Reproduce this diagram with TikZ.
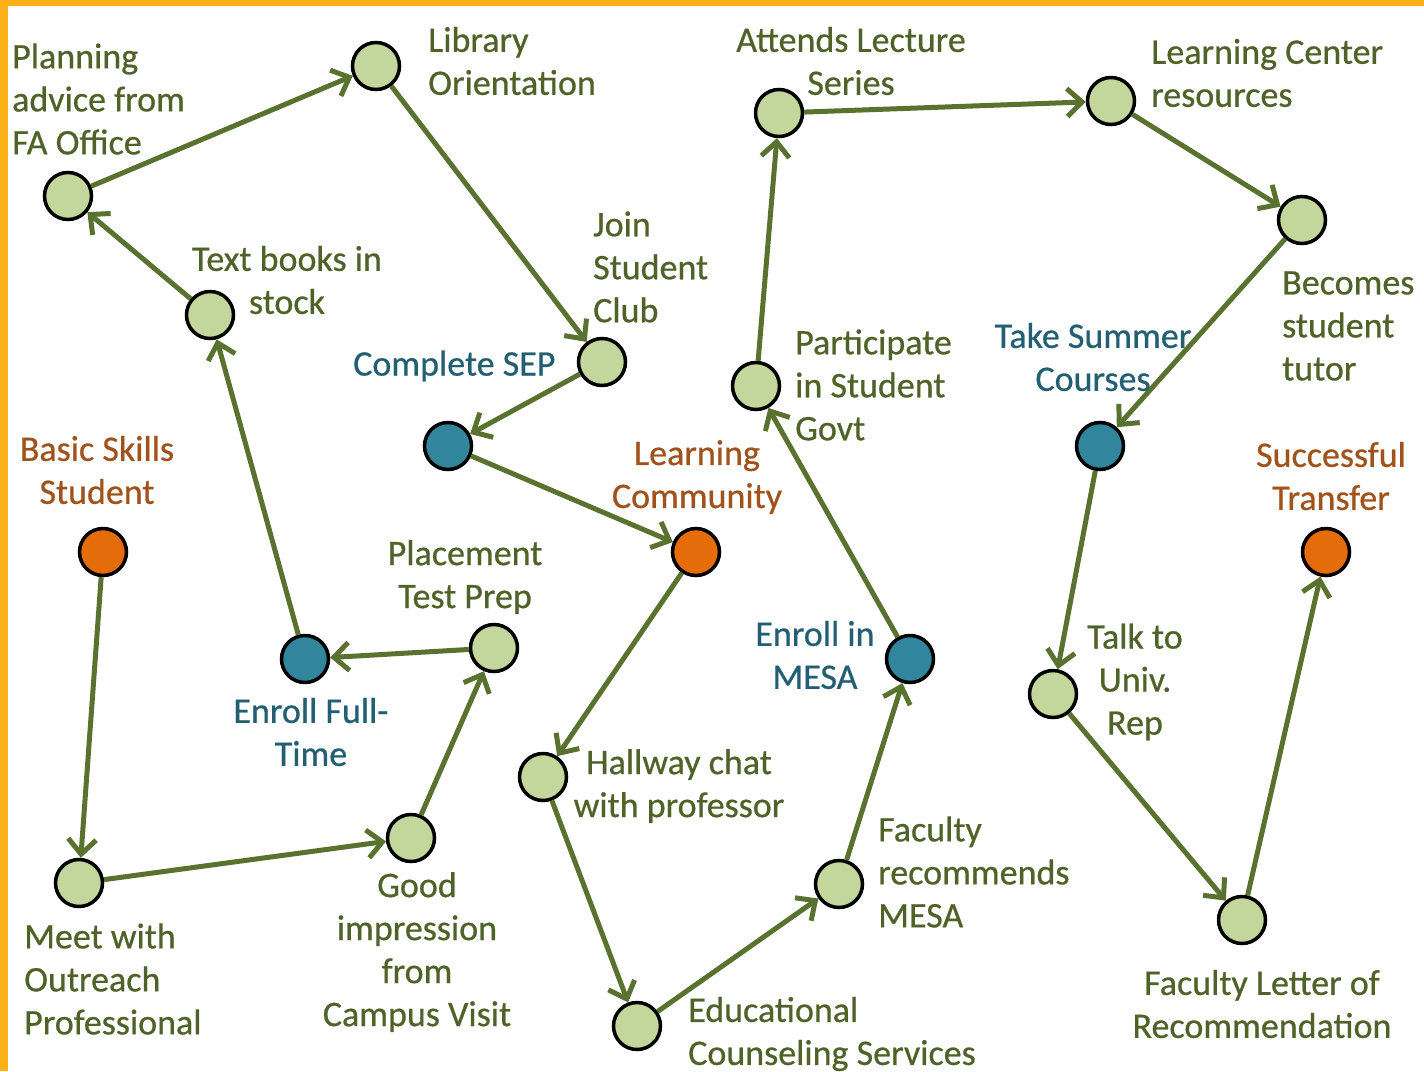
\documentclass[tikz,border=0pt]{standalone}
\usepackage{fontspec}
\setmainfont{Carlito}[FakeBold=0.6]
\newfontfamily\lblfont{Carlito}[FakeBold=0.6]
\usetikzlibrary{arrows.meta}
\definecolor{gfill}{HTML}{C3D69B}
\definecolor{bfill}{HTML}{31859C}
\definecolor{ofill}{HTML}{E46C0A}
\definecolor{edgec}{HTML}{5A7230}
\definecolor{gtext}{HTML}{4F6228}
\definecolor{btext}{HTML}{235F73}
\definecolor{otext}{HTML}{A0521A}
\definecolor{frame}{HTML}{FCB017}
\tikzset{
  dot/.style={circle,draw=black,line width=3.5pt,minimum size=47pt,inner sep=0pt},
  gdot/.style={dot,fill=gfill},
  bdot/.style={dot,fill=bfill},
  odot/.style={dot,fill=ofill},
  lbl/.style={inner sep=0pt,font=\lblfont\fontsize{36}{43}\selectfont},
  glbl/.style={lbl,text=gtext},
  blbl/.style={lbl,text=btext},
  olbl/.style={lbl,text=otext},
  flow/.style={draw=edgec,line width=5pt,-{Straight Barb[length=15pt,width=28pt,line width=5pt]}}
}
\begin{document}
\begin{tikzpicture}[x=1pt,y=-1pt]
\fill[white] (0,0) rectangle (1424,1071);
\useasboundingbox (0,0) rectangle (1424,1071);
\fill[frame] (0,0) rectangle (8,1071);
\fill[frame] (0,0) rectangle (1424,6);
% nodes
\node[odot] (n1) at (103,552) {};
\node[gdot] (n2) at (79,883) {};
\node[gdot] (n3) at (411,838) {};
\node[gdot] (n4) at (494,648) {};
\node[bdot] (n5) at (305,659) {};
\node[gdot] (n6) at (210,315) {};
\node[gdot] (n7) at (68,196) {};
\node[gdot] (n8) at (376,66) {};
\node[gdot] (n9) at (602,362) {};
\node[bdot] (n10) at (448,446) {};
\node[odot] (n11) at (696,552) {};
\node[gdot] (n12) at (543,777) {};
\node[gdot] (n13) at (637,1026) {};
\node[gdot] (n14) at (839,884) {};
\node[bdot] (n15) at (910,659) {};
\node[gdot] (n16) at (756,386) {};
\node[gdot] (n17) at (779,113) {};
\node[gdot] (n18) at (1111,101) {};
\node[gdot] (n19) at (1302,220) {};
\node[bdot] (n20) at (1100,446) {};
\node[gdot] (n21) at (1053,694) {};
\node[gdot] (n22) at (1242,920) {};
\node[odot] (n23) at (1326,552) {};
% edges
\foreach \a/\b in {1/2,2/3,3/4,4/5,5/6,6/7,7/8,8/9,9/10,10/11,11/12,12/13,13/14,14/15,15/16,16/17,17/18,18/19,19/20,20/21,21/22,22/23}
  \draw[flow] (n\a) -- (n\b);
% labels
\node[olbl,align=center] (t1) at (97,470) {Basic Skills\\Student};
\node[glbl,align=left,anchor=west] (t2) at (24,979) {Meet with\\Outreach\\Professional};
\node[glbl,align=center] (t3) at (417,952) {Good\\impression\\from\\Campus Visit};
\node[glbl,align=center] (t4) at (465,577) {Placement\\Test Prep};
\node[blbl,align=center] (t5) at (311,732) {Enroll Full-\\Time};
\node[glbl,align=center] (t6) at (287,280) {Text books in\\stock};
\node[glbl,align=left,anchor=west] (t7) at (12,99) {Planning\\advice from\\FA Office};
\node[glbl,align=left,anchor=west] (t8) at (428,61) {Library\\Orientation};
\node[glbl,align=left,anchor=west] (t9) at (593,267) {Join\\Student\\Club};
\node[blbl,anchor=west] (t10) at (353,366) {Complete SEP};
\node[olbl,align=center] (t11) at (697,477) {Learning\\Community};
\node[glbl,align=center] (t12) at (679,786) {Hallway chat\\with professor};
\node[glbl,align=left,anchor=west] (t13) at (688,1034) {Educational\\Counseling Services};
\node[glbl,align=left,anchor=west] (t14) at (878,872) {Faculty\\recommends\\MESA};
\node[blbl,align=center] (t15) at (815,655) {Enroll in\\MESA};
\node[glbl,align=left,anchor=west] (t16) at (795,385) {Participate\\in Student\\Govt};
\node[glbl,align=center] (t17) at (851,61) {Attends Lecture\\Series};
\node[glbl,align=left,anchor=west] (t18) at (1151,73) {Learning Center\\resources};
\node[glbl,align=left,anchor=west] (t19) at (1282,326) {Becomes\\student\\tutor};
\node[blbl,align=center] (t20) at (1093,357) {Take Summer\\Courses};
\node[glbl,align=center] (t21) at (1135,682) {Talk to\\Univ.\\Rep};
\node[glbl,align=center] (t22) at (1262,1004) {Faculty Letter of\\Recommendation};
\node[olbl,align=center] (t23) at (1331,476) {Successful\\Transfer};
\end{tikzpicture}
\end{document}
